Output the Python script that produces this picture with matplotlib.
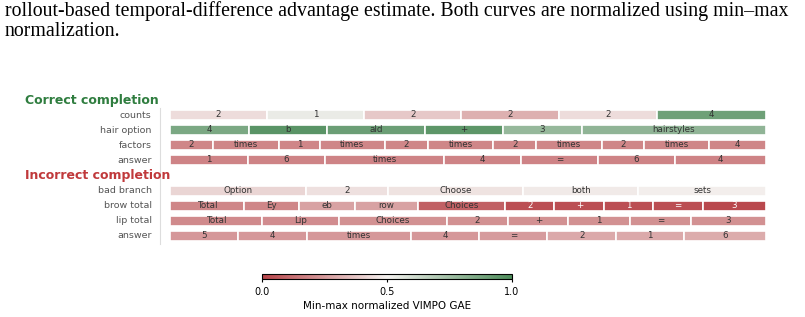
import numpy as np
import matplotlib
matplotlib.use("Agg")
import matplotlib.pyplot as plt
from matplotlib.colors import LinearSegmentedColormap, Normalize
from matplotlib.cm import ScalarMappable

caption = ("rollout-based temporal-difference advantage estimate. Both curves are normalized using min\u2013max\n"
           "normalization.")

# rows: (label, tokens, relative widths, normalized GAE value)
correct_rows = [
    ("counts", ["2", "1", "2", "2", "2", "4"],
     [97, 97, 97, 97, 98, 109],
     [0.44, 0.53, 0.38, 0.31, 0.44, 0.90]),
    ("hair option", ["4", "b", "ald", "+", "3", "hairstyles"],
     [79, 78, 98, 78, 79, 184],
     [0.86, 0.96, 0.91, 0.95, 0.78, 0.80]),
    ("factors", ["2", "times", "1", "times", "2", "times", "2", "times", "2", "times", "4"],
     [43, 66, 41, 65, 43, 66, 43, 66, 42, 65, 57],
     [0.19, 0.19, 0.19, 0.19, 0.19, 0.19, 0.19, 0.19, 0.19, 0.19, 0.19]),
    ("answer", ["1", "6", "times", "4", "=", "6", "4"],
     [78, 77, 119, 77, 77, 77, 91],
     [0.18, 0.18, 0.18, 0.18, 0.18, 0.18, 0.18]),
]
incorrect_rows = [
    ("bad branch", ["Option", "2", "Choose", "both", "sets"],
     [136, 82, 136, 115, 128],
     [0.42, 0.45, 0.46, 0.48, 0.49]),
    ("brow total", ["Total", "Ey", "eb", "row", "Choices", "2", "+", "1", "=", "3"],
     [74, 55, 56, 63, 88, 49, 50, 49, 50, 63],
     [0.19, 0.19, 0.27, 0.27, 0.08, 0.03, 0.03, 0.03, 0.03, 0.01]),
    ("lip total", ["Total", "Lip", "Choices", "2", "+", "1", "=", "3"],
     [92, 77, 108, 62, 60, 62, 61, 75],
     [0.20, 0.21, 0.22, 0.22, 0.22, 0.22, 0.22, 0.22]),
    ("answer", ["5", "4", "times", "4", "=", "2", "1", "6"],
     [68, 69, 104, 69, 68, 69, 68, 82],
     [0.24, 0.24, 0.24, 0.24, 0.25, 0.29, 0.29, 0.30]),
]

cmap = LinearSegmentedColormap.from_list("gae", ["#b8454a", "#f4f1ef", "#4d8c5a"])

fig = plt.figure(figsize=(8.05, 3.17), dpi=100)
W, H = 805, 317

fig.text(5 / W, 1 - 1 / H, caption, ha="left", va="top", fontsize=14.3,
         family="Liberation Serif", linespacing=1.08)

# main axes: x 170..766 px, row index -1.6..8.6
ax = fig.add_axes([170 / W, 1 - 245 / H, 596 / W, 154 / H])
ax.set_xlim(0, 1)
ax.set_ylim(8.6, -1.6)
ax.axis("off")

sections = [("Correct completion", "#2f7d3f", correct_rows, 0),
            ("Incorrect completion", "#c0393b", incorrect_rows, 5)]

for title, tcolor, rows, start in sections:
    ax.text(-0.243, start - 1, title, ha="left", va="center", fontsize=9,
            fontweight="bold", color=tcolor, clip_on=False)
    for i, (label, toks, widths, vals) in enumerate(rows):
        y = start + i
        w = np.array(widths, dtype=float)
        w = w / w.sum()
        lefts = np.concatenate([[0], np.cumsum(w)[:-1]])
        ax.barh([y] * len(w), w, left=lefts, height=0.66,
                color=[cmap(v) for v in vals], edgecolor="white", linewidth=1.2)
        for l, ww, t, v in zip(lefts, w, toks, vals):
            ax.text(l + ww / 2, y - 0.03, t, ha="center", va="center", fontsize=6.3,
                    color="white" if v < 0.05 else "#333333")
        ax.text(-0.031, y, label, ha="right", va="center", fontsize=6.8,
                color="#555555", clip_on=False)

ax.plot([-0.0168, -0.0168], [-0.45, 8.55], color="#dddddd", lw=0.8, clip_on=False)

# colorbar
cax = fig.add_axes([262 / W, 1 - 279 / H, 250 / W, 5 / H])
sm = ScalarMappable(norm=Normalize(0, 1), cmap=cmap)
cb = fig.colorbar(sm, cax=cax, orientation="horizontal", ticks=[0, 0.5, 1])
cb.ax.set_xticklabels(["0.0", "0.5", "1.0"])
cb.ax.tick_params(labelsize=7, length=2.5, width=0.8, pad=3)
cb.outline.set_linewidth(0.8)
cb.set_label("Min-max normalized VIMPO GAE", fontsize=7.5, labelpad=3)

fig.savefig("out.png", dpi=100)
